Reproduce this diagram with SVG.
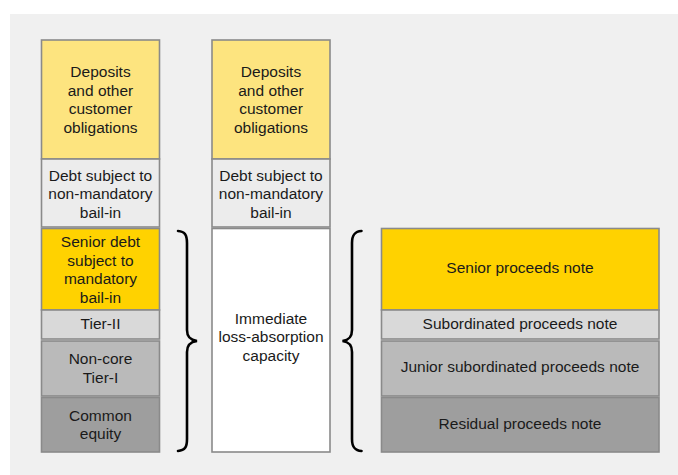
<svg xmlns="http://www.w3.org/2000/svg" width="678" height="475" viewBox="0 0 678 475">
  <style>
    .box { stroke: #8a8a8a; stroke-width: 1.6; }
    .yl { fill: #fde47f; }
    .gold { fill: #ffd200; }
    .g1 { fill: #ececec; }
    .g2 { fill: #d9d9d9; }
    .g3 { fill: #bababa; }
    .g4 { fill: #9e9e9e; }
    .wh { fill: #ffffff; }
    text { font-family: "Liberation Sans", Arial, sans-serif; font-size: 15.5px; fill: #1a1a1a; text-anchor: middle; }
    .brace { fill: none; stroke: #000000; stroke-width: 2.6; stroke-linecap: round; }
  </style>

  <!-- panel background -->
  <rect x="10" y="14" width="668" height="461" fill="#f0f0f0"/>

  <!-- left column: bank liabilities -->
  <g id="left-deposits">
    <rect class="box yl" x="41.5" y="40" width="118" height="119"/>
    <text x="100.5" y="77">Deposits</text>
    <text x="100.5" y="95.5">and other</text>
    <text x="100.5" y="114">customer</text>
    <text x="100.5" y="132.5">obligations</text>
  </g>
  <g id="left-debt-non-mandatory">
    <rect class="box g1" x="41.5" y="159" width="118" height="68"/>
    <text x="100.5" y="180.5">Debt subject to</text>
    <text x="100.5" y="199">non-mandatory</text>
    <text x="100.5" y="217.5">bail-in</text>
  </g>
  <g id="left-senior-debt">
    <rect class="box gold" x="41.5" y="228.5" width="118" height="81.5"/>
    <text x="100.5" y="247">Senior debt</text>
    <text x="100.5" y="265.5">subject to</text>
    <text x="100.5" y="284">mandatory</text>
    <text x="100.5" y="302.5">bail-in</text>
  </g>
  <g id="left-tier2">
    <rect class="box g2" x="41.5" y="310" width="118" height="29"/>
    <text x="100.5" y="329">Tier-II</text>
  </g>
  <g id="left-noncore-tier1">
    <rect class="box g3" x="41.5" y="341" width="118" height="55"/>
    <text x="100.5" y="364">Non-core</text>
    <text x="100.5" y="382.5">Tier-I</text>
  </g>
  <g id="left-common-equity">
    <rect class="box g4" x="41.5" y="397.5" width="118" height="54.5"/>
    <text x="100.5" y="420.5">Common</text>
    <text x="100.5" y="439">equity</text>
  </g>

  <!-- middle column -->
  <g id="mid-deposits">
    <rect class="box yl" x="212" y="40" width="118" height="119"/>
    <text x="271" y="77">Deposits</text>
    <text x="271" y="95.5">and other</text>
    <text x="271" y="114">customer</text>
    <text x="271" y="132.5">obligations</text>
  </g>
  <g id="mid-debt-non-mandatory">
    <rect class="box g1" x="212" y="159" width="118" height="68"/>
    <text x="271" y="180.5">Debt subject to</text>
    <text x="271" y="199">non-mandatory</text>
    <text x="271" y="217.5">bail-in</text>
  </g>
  <g id="mid-loss-absorption">
    <rect class="box wh" x="212" y="228.5" width="118" height="223.5"/>
    <text x="271" y="323.5">Immediate</text>
    <text x="271" y="342">loss-absorption</text>
    <text x="271" y="360.5">capacity</text>
  </g>

  <!-- right column: proceeds notes -->
  <g id="right-senior-note">
    <rect class="box gold" x="381.5" y="228.5" width="277.5" height="81.5"/>
    <text x="520" y="273">Senior proceeds note</text>
  </g>
  <g id="right-subordinated-note">
    <rect class="box g2" x="381.5" y="310" width="277.5" height="29"/>
    <text x="520" y="329">Subordinated proceeds note</text>
  </g>
  <g id="right-junior-note">
    <rect class="box g3" x="381.5" y="341" width="277.5" height="55"/>
    <text x="520" y="372">Junior subordinated proceeds note</text>
  </g>
  <g id="right-residual-note">
    <rect class="box g4" x="381.5" y="397.5" width="277.5" height="54.5"/>
    <text x="520" y="429">Residual proceeds note</text>
  </g>

  <!-- grouping braces -->
  <g id="connectors">
    <path class="brace" d="M178,231 C185,231.5 187,235 187,243 L187,330 C187,337 190,340 197,341 C190,342 187,345 187,352 L187,439 C187,447 185,450.5 178,451"/>
    <path class="brace" d="M361.5,231 C354.5,231.5 352,235 352,243 L352,330 C352,337 349,340 342.5,341 C349,342 352,345 352,352 L352,439 C352,447 354.5,450.5 361.5,451"/>
  </g>
</svg>
